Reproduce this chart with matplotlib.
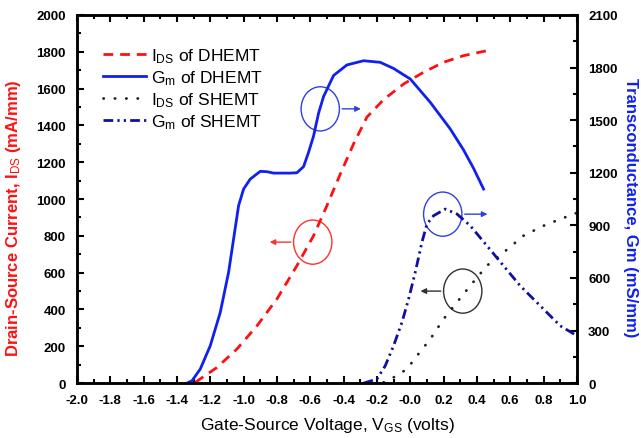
import matplotlib
matplotlib.use('Agg')
import matplotlib.pyplot as plt
from matplotlib.patches import Ellipse
import numpy as np

matplotlib.rc('font', **{'family': ['Liberation Sans', 'DejaVu Sans']})
matplotlib.rc('mathtext', fontset='custom', rm='Liberation Sans', it='Liberation Sans',
              bf='Liberation Sans:bold')

# DHEMT  I_DS (mA/mm)
v_ids_d = [-1.29, -1.16, -1.04, -0.92, -0.80, -0.68, -0.58, -0.50, -0.42, -0.34,
           -0.26, -0.16, -0.04, 0.08, 0.20, 0.32, 0.46]
ids_d = [4, 85, 185, 311, 457, 638, 801, 964, 1135, 1300,
         1445, 1540, 1625, 1689, 1743, 1779, 1806]

# DHEMT  Gm (mS/mm)
v_gm_d = [-1.34, -1.31, -1.26, -1.20, -1.14, -1.09, -1.06, -1.03, -1.00, -0.96, -0.90,
          -0.86, -0.82, -0.72, -0.68, -0.64, -0.61, -0.58, -0.55, -0.52, -0.46, -0.38,
          -0.28, -0.18, -0.10, 0.0, 0.12, 0.24, 0.32, 0.38, 0.44]
gm_d = [0, 13, 80, 213, 403, 632, 822, 1012, 1107, 1164, 1208,
        1206, 1198, 1198, 1200, 1235, 1317, 1410, 1540, 1635, 1755, 1815,
        1839, 1830, 1795, 1735, 1602, 1450, 1330, 1225, 1107]

# SHEMT  I_DS (mA/mm)
v_ids_s = [-0.16, -0.10, -0.02, 0.04, 0.12, 0.20, 0.28, 0.36, 0.46, 0.56, 0.68, 0.80, 0.90, 1.0]
ids_s = [4, 31, 76, 148, 239, 348, 439, 529, 638, 710, 801, 855, 891, 925]

# SHEMT  Gm (mS/mm)
v_gm_s = [-0.28, -0.20, -0.15, -0.10, -0.05, -0.01, 0.03, 0.07, 0.10, 0.14, 0.21, 0.28,
          0.36, 0.46, 0.56, 0.66, 0.78, 0.90, 1.0]
gm_s = [0, 23, 99, 213, 346, 479, 632, 803, 907, 955, 993, 965,
        898, 784, 669, 555, 441, 327, 270]

red = '#ff1010'
blue = '#1020ee'
navy = '#1010a0'

fig = plt.figure(figsize=(6.41, 4.39), dpi=100)
ax = fig.add_axes([0.120, 0.125, 0.780, 0.8386])
ax2 = ax.twinx()

l1, = ax.plot(v_ids_d, ids_d, color=red, lw=2, ls=(0, (3.5, 2.5)))
l2, = ax2.plot(v_gm_d, gm_d, color=blue, lw=2)
l3, = ax.plot(v_ids_s, ids_s, color='#202020', lw=2, ls=(0, (0.1, 4)), dash_capstyle='round')
l4, = ax2.plot(v_gm_s, gm_s, color=navy, lw=2, ls=(0, (3.5, 1.5, 0.8, 1.5, 0.8, 1.5)))

ax.set_xlim(-2.0, 1.0)
ax.set_ylim(0, 2000)
ax2.set_ylim(0, 2100)

ax.set_xticks(np.arange(-2.0, 1.01, 0.2))
ax.set_xticks(np.arange(-2.0, 1.01, 0.1), minor=True)
ax.set_xticklabels(['%.1f' % t for t in np.arange(-2.0, 1.01, 0.2)])
ax.set_yticks(np.arange(0, 2001, 200))
ax.set_yticks(np.arange(0, 2001, 100), minor=True)
ax2.set_yticks(np.arange(0, 2101, 300))
ax2.set_yticks(np.arange(0, 2101, 150), minor=True)

ax.tick_params(which='both', direction='in', top=True, width=1.5, labelsize=9.5)
ax.tick_params(axis='x', which='major', length=5, pad=8)
ax.tick_params(axis='y', which='major', length=5, pad=8)
ax.tick_params(which='minor', length=3)
ax2.tick_params(which='both', direction='in', width=1.5, labelsize=9.5)
ax2.tick_params(which='major', length=5, pad=8)
ax2.tick_params(which='minor', length=3)
for lab in ax.get_xticklabels() + ax.get_yticklabels() + ax2.get_yticklabels():
    lab.set_fontweight('bold')
for a in (ax, ax2):
    for s in a.spines.values():
        s.set_linewidth(1.8)

ax.set_xlabel('Gate-Source Voltage, V$_{\\mathrm{GS}}$ (volts)', fontsize=12.5, labelpad=6)
ax.set_ylabel('Drain-Source Current, I$_{\\mathrm{DS}}$ (mA/mm)', fontsize=12, color=red,
              fontweight='bold')
ax.yaxis.set_label_coords(-0.108, 0.45)
ax2.set_ylabel('Transconductance, Gm (mS/mm)', fontsize=12, color=blue,
               fontweight='bold', rotation=-90, va='bottom')
ax2.yaxis.set_label_coords(1.092, 0.478)

ax.legend([l1, l2, l3, l4],
          ['I$_{\\mathrm{DS}}$ of DHEMT', 'G$_{\\mathrm{m}}$ of DHEMT',
           'I$_{\\mathrm{DS}}$ of SHEMT', 'G$_{\\mathrm{m}}$ of SHEMT'],
          loc='upper left', bbox_to_anchor=(0.038, 0.935), borderaxespad=0,
          frameon=False, fontsize=12.5,
          handlelength=2.5, labelspacing=0.2, handletextpad=0.25)

# circles and arrows
def mark(cx, cy, color, x0, x1):
    ax.add_patch(Ellipse((cx, cy), 0.23, 240, fill=False, ec=color, lw=1))
    ax.annotate('', xy=(x1, cy), xytext=(x0, cy),
                arrowprops=dict(arrowstyle='-|>', color=color, lw=1, mutation_scale=8))

mark(-0.54, 1490, '#3040e0', -0.425, -0.28)
mark(-0.585, 766, '#ff3030', -0.70, -0.86)
mark(0.195, 918, '#3040e0', 0.31, 0.48)
mark(0.315, 500, '#303030', 0.20, 0.045)

fig.savefig('out.png', dpi=100)
